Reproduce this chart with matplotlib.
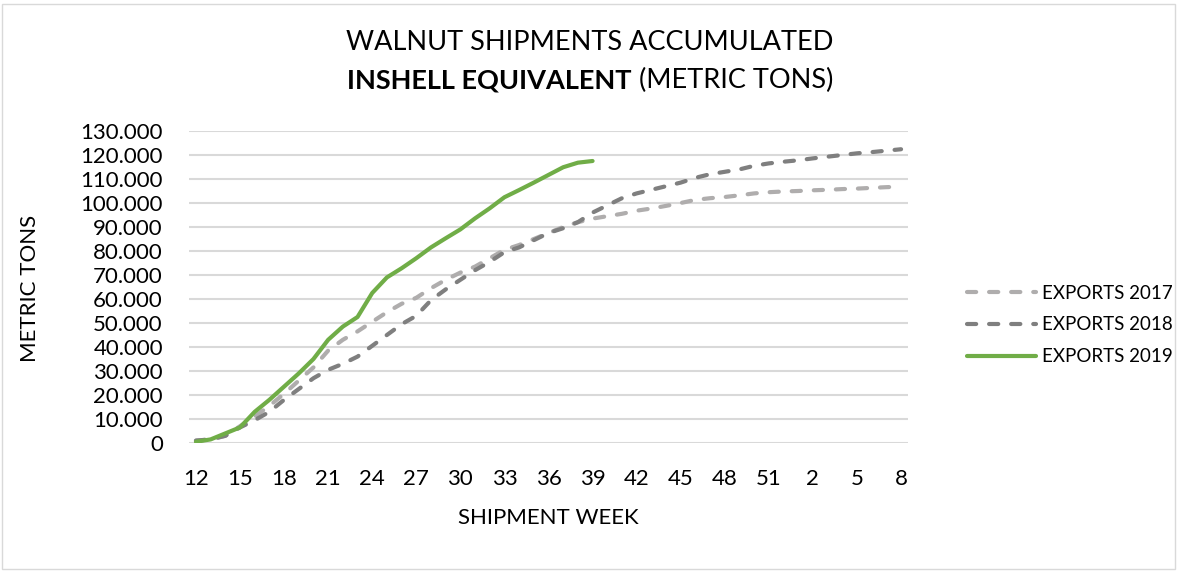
import matplotlib
matplotlib.use("Agg")
import matplotlib.pyplot as plt
from matplotlib.patches import Rectangle
from matplotlib.lines import Line2D
from matplotlib.ticker import FuncFormatter

plt.rcParams['font.family'] = ['Lato', 'DejaVu Sans']

weeks = list(range(12, 53)) + list(range(1, 9))

exports_2017 = [1.0, 1.5, 3.0, 7.0, 11.0, 15.5, 20.5, 26.0, 31.5, 38.5,
                43.0, 46.5, 50.5, 54.5, 58.0, 60.5, 64.5, 68.0, 71.0, 73.5,
                77.0, 80.5, 82.5, 85.0, 87.5, 90.0, 92.0, 93.5, 94.5, 95.5,
                96.8, 97.7, 98.8, 100.0, 101.3, 102.0, 102.5, 103.2, 104.0, 104.5,
                104.8, 105.0, 105.3, 105.5, 105.8, 106.0, 106.3, 106.6, 106.8]
exports_2018 = [1.0, 1.5, 3.0, 6.5, 9.5, 13.0, 18.0, 22.5, 27.0, 30.5,
                33.0, 36.0, 40.5, 45.0, 49.5, 53.0, 59.5, 64.0, 68.0, 72.0,
                75.5, 79.5, 81.5, 84.5, 87.5, 89.5, 92.0, 96.0, 99.0, 102.0,
                104.0, 105.5, 107.0, 108.5, 110.5, 112.0, 113.0, 114.0, 115.5, 116.5,
                117.2, 117.8, 118.6, 119.3, 120.0, 120.7, 121.2, 121.8, 122.4]
exports_2019 = [0.5, 1.5, 4.0, 6.5, 13.0, 18.0, 23.5, 29.0, 35.0, 43.0,
                48.5, 52.5, 62.5, 69.0, 72.8, 77.0, 81.5, 85.3, 89.0, 93.6,
                97.8, 102.4, 105.4, 108.5, 111.7, 114.9, 116.8, 117.5]

series_names = ["EXPORTS 2017", "EXPORTS 2018", "EXPORTS 2019"]

W, H = 1178, 571
fig = plt.figure(figsize=(W / 100, H / 100), dpi=100)
fig.patch.set_facecolor('white')
fig.patches.append(Rectangle((2 / W, 2 / H), (W - 5) / W, (H - 6) / H,
                             transform=fig.transFigure, fill=False,
                             edgecolor='#d9d9d9', linewidth=1.0))

ax = fig.add_axes([188.6 / W, 1 - 443 / H, (908.4 - 188.6) / W, (443 - 131) / H])
x = list(range(len(weeks)))

y17 = [v * 1000 for v in exports_2017]
y18 = [v * 1000 for v in exports_2018]
y19 = [v * 1000 for v in exports_2019]

DASH = (0, (2.2, 3.1))
C17, C18, C19 = '#afadad', '#7f7f7f', '#70ad47'

ax.plot(x, y17, color=C17, linewidth=3.0, linestyle=DASH,
        dash_capstyle='round', zorder=3)
ax.plot(x, y18, color=C18, linewidth=3.0, linestyle=DASH,
        dash_capstyle='round', zorder=4)
ax.plot(x[:len(y19)], y19, color=C19, linewidth=3.0,
        solid_capstyle='round', solid_joinstyle='round', zorder=5)

ax.set_xlim(-0.5, len(weeks) - 0.5)
ax.set_ylim(0, 130000)
ax.set_yticks(range(0, 130001, 10000))
ax.yaxis.set_major_formatter(FuncFormatter(lambda v, p: f"{int(v):,}".replace(",", ".")))
ax.set_xticks(x[::3])
ax.set_xticklabels([str(w) for w in weeks[::3]])
ax.grid(axis='y', color='#d9d9d9', linewidth=1.5, zorder=0)
ax.set_axisbelow(True)
for s in ax.spines.values():
    s.set_visible(False)
ax.tick_params(axis='both', length=0, labelsize=16, colors='#000000')
ax.tick_params(axis='y', pad=18.5)
ax.tick_params(axis='x', pad=19)

fig.text(30 / W, 1 - 288 / H, "METRIC TONS", rotation=90, ha='center', va='center',
         fontsize=16)
fig.text(548 / W, 1 - 518 / H, "SHIPMENT WEEK", ha='center', va='center', fontsize=16)

fig.text(590 / W, 1 - 42 / H, "WALNUT SHIPMENTS ACCUMULATED", ha='center', va='center',
         fontsize=19.5, color='#000000')
t2a = fig.text(0, 0, "INSHELL EQUIVALENT", fontsize=19.5, fontweight='bold')
t2b = fig.text(0, 0, " (METRIC TONS)", fontsize=19.5)
fig.canvas.draw()
r = fig.canvas.get_renderer()
wa = t2a.get_window_extent(r).width
wb = t2b.get_window_extent(r).width
x0 = 590 - (wa + wb) / 2
t2a.set_position((x0 / W, 1 - 80 / H)); t2a.set_va('center')
t2b.set_position(((x0 + wa) / W, 1 - 80 / H)); t2b.set_va('center')

handles = [Line2D([], [], color=C17, linewidth=3.0, linestyle=DASH, dash_capstyle='round'),
           Line2D([], [], color=C18, linewidth=3.0, linestyle=DASH, dash_capstyle='round'),
           Line2D([], [], color=C19, linewidth=3.0, solid_capstyle='round')]
fig.legend(handles, series_names, loc='center left', bbox_to_anchor=(952 / W, 1 - 325 / H),
           frameon=False, fontsize=13.5, handlelength=3.7, handletextpad=0.32,
           labelspacing=0.78, borderpad=0.3)

fig.savefig("out.png", dpi=100)
